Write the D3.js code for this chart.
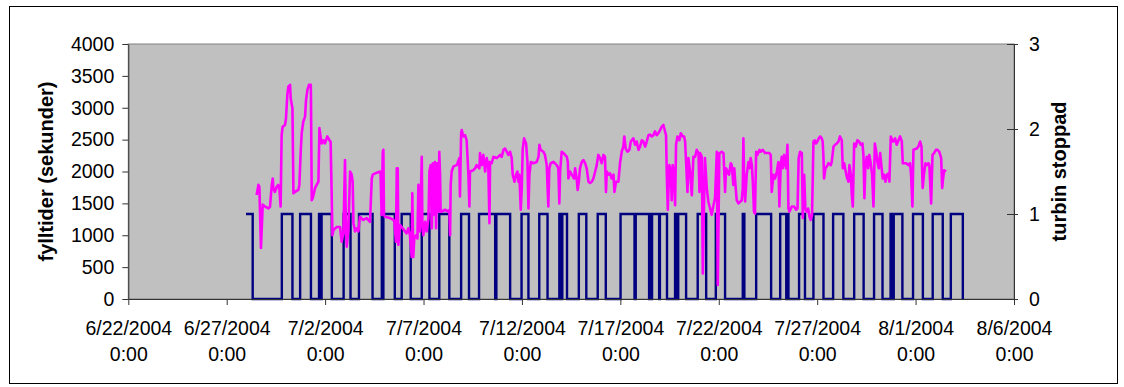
<!DOCTYPE html>
<html><head><meta charset="utf-8">
<script src="https://cdn.jsdelivr.net/npm/d3@7"></script>
<style>
body{margin:0;background:#fff}
svg{display:block}
text{font-family:"Liberation Sans",Arial,sans-serif;fill:#000}
</style>
</head><body>
<svg id="c" width="1124" height="387"></svg>
<script>
// ---------------- data ----------------
const startDate = [2004, 5, 22];            // 6/22/2004 0:00
const tickDays = [0, 5, 10, 15, 20, 25, 30, 35, 40, 45];
const leftTicks = [0, 500, 1000, 1500, 2000, 2500, 3000, 3500, 4000];
const rightTicks = [0, 1, 2, 3];
const leftTitle = "fylltider (sekunder)";
const rightTitle = "turbin stoppad";

// fill time (seconds): day offset from 6/22/2004 0:00 and value
const fillDay = [
6.52,6.61,6.66,6.74,6.83,6.95,7.12,7.20,7.29,7.34,7.37,7.45,7.54,7.62,7.68,7.74,7.79,7.84,7.96,8.01,8.08,8.13,8.22,8.25,8.34,8.39,8.47,8.64,8.69,8.76,8.81,8.89,8.98,9.03,9.10,9.18,9.27,9.28,9.32,9.37,9.49,9.57,9.66,9.71,9.78,9.83,9.91,9.99,10.11,10.22,10.28,10.33,10.37,10.42,10.59,10.76,10.84,10.93,11.01,11.06,11.10,11.18,11.27,11.35,11.40,11.44,11.52,11.60,11.69,
11.77,11.94,12.11,12.28,12.37,12.42,12.54,12.79,12.82,12.87,12.93,12.96,12.99,13.04,13.30,13.47,13.52,13.60,13.64,13.69,13.72,13.81,13.94,14.06,14.14,14.23,14.31,14.40,14.43,14.48,14.53,14.62,14.69,14.74,14.79,14.82,14.91,14.94,14.99,15.08,15.16,15.25,15.30,15.36,15.42,15.47,15.50,15.58,15.64,15.70,15.75,15.80,15.84,15.87,15.92,16.09,16.26,16.31,16.35,16.38,16.43,16.52,16.69,16.82,16.85,16.91,16.94,17.02,17.11,17.19,17.28,17.33,17.36,17.53,17.62,17.70,17.84,
17.87,17.96,18.04,18.13,18.21,18.29,18.35,18.38,18.46,18.55,18.72,18.89,18.97,19.06,19.14,19.23,19.31,19.40,19.48,19.53,19.62,19.70,19.77,19.82,19.87,19.94,19.99,20.04,20.11,20.21,20.28,20.33,20.38,20.45,20.58,20.75,20.84,20.89,20.95,21.09,21.17,21.26,21.34,21.39,21.46,21.60,21.77,21.85,21.90,21.94,22.02,22.11,22.28,22.33,22.36,22.44,22.53,22.65,22.70,22.78,22.83,22.89,22.95,23.04,23.12,23.21,23.29,23.38,23.46,23.55,23.63,23.72,23.80,23.88,
23.97,24.05,24.14,24.22,24.27,24.31,24.39,24.48,24.56,24.65,24.70,24.78,24.90,24.99,25.07,25.15,25.20,25.27,25.36,25.46,25.53,25.66,25.75,25.83,25.92,26.00,26.09,26.17,26.26,26.34,26.43,26.51,26.59,26.68,26.76,26.85,26.93,27.02,27.10,27.19,27.27,27.32,27.36,27.41,27.49,27.56,27.61,27.66,27.73,27.78,27.83,27.90,28.00,28.07,28.17,28.24,28.29,28.34,28.41,28.46,28.54,28.63,28.71,28.80,28.88,28.97,29.02,29.05,29.14,29.19,29.24,29.30,29.39,29.47,29.56,29.64,29.73,29.81,29.90,29.95,30.03,
30.07,30.15,30.24,30.32,30.37,30.44,30.52,30.61,30.66,30.74,30.79,30.86,30.91,31.00,31.17,31.22,31.25,31.29,31.34,31.42,31.51,31.56,31.62,31.68,31.73,31.79,31.84,31.90,31.96,32.07,32.13,32.23,32.35,32.57,32.64,32.69,32.78,32.86,32.95,33.03,33.08,33.15,33.20,33.25,33.32,33.37,33.42,33.49,33.54,33.59,33.71,33.83,33.93,34.00,34.06,34.13,34.22,34.27,34.34,34.40,34.47,34.54,34.61,34.67,34.74,34.81,34.88,34.94,35.01,35.08,35.15,35.23,35.28,35.32,35.35,35.42,35.49,35.57,35.69,35.74,35.83,35.91,36.00,36.08,
36.16,36.25,36.30,36.37,36.45,36.50,36.59,36.64,36.71,36.76,36.81,36.88,36.96,37.04,37.13,37.21,37.30,37.35,37.40,37.45,37.52,37.59,37.65,37.72,37.79,37.86,37.93,38.00,38.06,38.13,38.20,38.26,38.33,38.40,38.47,38.54,38.62,38.67,38.74,38.81,38.87,38.96,39.04,39.13,39.21,39.30,39.35,39.52,39.64,39.72,39.77,39.84,39.89,40.06,40.14,40.23,40.30,40.36,40.43,40.50,40.57,40.65,40.70,40.79,40.86,40.94,41.03,41.11,41.20,41.25,41.30,41.35,41.38,41.45,41.55
];
const fillSec = [
1630,1790,1760,800,1480,1450,1420,1450,1790,1890,1740,1680,1760,1790,1710,1450,2570,2700,2730,2830,3200,3330,3360,3150,2990,1660,1680,1710,1790,2310,2600,2780,2860,3120,3280,3360,3360,3200,1550,1580,1740,1790,1840,2680,2520,2440,2490,2440,2550,2490,2470,1680,1000,1080,1130,1130,900,1030,2180,1060,820,1080,2000,1950,1840,1190,1060,1110,1060,
1290,1240,1270,1210,1890,1950,1970,2000,1950,1320,2310,2340,1320,1290,1270,1240,1210,900,2050,2050,850,1160,1110,1060,1030,1110,1000,660,1660,660,950,1000,950,1790,1160,1060,2230,1210,1000,1210,1060,1270,2000,2100,1110,2130,1320,2150,1110,2130,1370,2310,1950,1370,1370,1400,1370,1400,1000,1790,2000,2080,2100,2210,1610,2600,2650,2550,2570,2490,1950,1450,2000,2020,2050,2100,2050,
2290,2100,2260,2000,2210,2100,1190,2150,2130,2230,2210,2260,2230,2340,2360,2310,2260,2310,2210,1950,1840,1950,2000,1840,1950,1400,1740,2360,2520,2440,2150,1420,1950,2150,2130,2150,2230,2420,2340,2310,2260,2100,1450,2050,2130,2150,2100,2050,1500,2000,2310,2290,2230,2150,1890,2000,1950,1890,2050,1890,1710,1840,2050,2150,2180,2130,2050,1840,1820,1840,1890,2000,2100,2260,
2210,2130,2260,2230,1680,2000,1950,1970,1890,1950,1680,1840,1840,2150,2310,2390,2550,2360,2310,2340,2470,2520,2420,2470,2340,2390,2490,2470,2390,2470,2570,2580,2550,2570,2630,2570,2600,2650,2700,2730,2630,2570,1950,1400,2100,2020,1550,2100,1950,1470,2420,2550,2490,2600,2550,2550,2470,2150,1680,2210,2000,1630,2230,2230,2340,2290,1680,2290,2230,400,1320,2210,1740,1530,1420,1320,1470,1580,2310,220,2290,
2290,2310,2290,1680,2050,2000,1950,2130,2100,1790,2050,1740,1550,1500,1550,1740,2520,1840,1530,1950,2150,2050,2210,2100,1840,1370,1340,2310,2260,2340,2310,2340,2290,2290,2260,1680,1950,1890,2000,2150,1450,2100,2230,2050,2260,2130,2050,2420,1420,1370,1450,1450,1400,1420,2210,2310,2290,1270,1950,1420,1370,1420,1290,1240,1320,2470,2490,2440,2470,2520,2550,2520,2470,2210,1890,2050,2080,2130,2100,2150,2390,2420,2440,2470,
2550,2490,2050,2130,2000,1920,1840,2100,1950,1630,1450,2440,2390,2490,2470,2420,2440,2260,1580,2100,2230,2050,2260,2130,1950,1450,2440,2310,2150,2050,2290,2100,1890,1950,1840,1950,1970,1840,2550,2490,2470,2520,2420,2490,2550,2470,2130,2130,2100,2130,1950,1450,2340,2360,2390,2470,2390,1740,1970,2130,2100,2130,2100,1500,2260,2290,2340,2340,2310,2260,2210,1740,1840,2020,2000
];

// turbine stopped (1) intervals: day offsets of start and end
const stopStart = [5.98,7.80,8.73,9.69,9.82,10.94,11.72,12.88,12.96,13.89,14.91,15.80,16.91,17.82,18.70,19.98,20.88,21.90,22.05,22.89,23.85,25.01,25.78,26.50,26.61,27.01,27.78,27.86,27.94,28.93,29.85,31.22,31.90,33.12,33.48,34.08,34.81,35.81,36.88,37.89,38.73,38.81,38.89,39.87,40.87,41.79];
const stopEnd   = [6.32,8.34,9.28,9.77,10.34,11.29,12.41,12.91,13.54,14.35,15.30,16.31,17.31,18.64,19.40,20.33,21.30,21.95,22.29,23.27,24.26,25.72,26.46,26.57,26.97,27.37,27.82,27.90,28.34,29.36,30.32,31.30,32.66,33.43,33.54,34.38,35.32,36.33,37.36,38.32,38.77,38.85,39.33,40.37,41.38,42.40];

// ---------------- chart ----------------
const base = new Date(startDate[0], startDate[1], startDate[2]);
const toDate = d => new Date(base.getTime() + d * 864e5);

const P = {l: 128.3, r: 1014, t: 44, b: 299};
const FS = "19.5px";
const svg = d3.select("#c");

svg.append("rect").attr("x", 9.5).attr("y", 6.5).attr("width", 1108).attr("height", 377)
  .attr("fill", "#fff").attr("stroke", "#000").attr("stroke-width", 1);

const x = d3.scaleTime().domain([toDate(tickDays[0]), toDate(tickDays[tickDays.length - 1])]).range([P.l, P.r]);
const yL = d3.scaleLinear().domain([0, 4000]).range([P.b, P.t]);
const yR = d3.scaleLinear().domain([0, 3]).range([P.b, P.t]);

// plot area
svg.append("rect").attr("x", P.l).attr("y", P.t).attr("width", P.r - P.l).attr("height", P.b - P.t)
  .attr("fill", "#c0c0c0").attr("stroke", "#808080").attr("stroke-width", 1);

const stopPts = [];
stopStart.forEach((a, i) => {
  if (i > 0) stopPts.push([a, 0]);
  stopPts.push([a, 1]);
  stopPts.push([stopEnd[i], 1]);
  stopPts.push([stopEnd[i], 0]);
});
const lineR = d3.line().x(p => x(toDate(p[0]))).y(p => yR(p[1]));
svg.append("path").attr("d", lineR(stopPts)).attr("fill", "none")
  .attr("stroke", "#000080").attr("stroke-width", 2.4).attr("stroke-linejoin", "miter");

const fillPts = fillDay.map((d, i) => [d, fillSec[i]]);
const lineL = d3.line().x(p => x(toDate(p[0]))).y(p => yL(p[1]));
svg.append("path").attr("d", lineL(fillPts)).attr("fill", "none")
  .attr("stroke", "#ff00ff").attr("stroke-width", 2.6).attr("stroke-linejoin", "round");

// axes
const axisColor = "#333";
const gx = svg.append("g").attr("transform", `translate(0,${P.b})`)
  .call(d3.axisBottom(x).tickValues(tickDays.map(toDate)).tickSize(6).tickSizeOuter(0));
const f1 = d3.timeFormat("%-m/%-d/%Y"), f2 = d3.timeFormat("%-H:%M");
gx.selectAll(".tick text").each(function(d) {
  const t = d3.select(this);
  t.text(null).attr("y", 36).attr("dy", null).style("font-size", FS);
  t.append("tspan").attr("x", 0).text(f1(d));
  t.append("tspan").attr("x", 0).attr("dy", 26).text(f2(d));
});

const gl = svg.append("g").attr("transform", `translate(${P.l},0)`)
  .call(d3.axisLeft(yL).tickValues(leftTicks).tickFormat(d3.format("d"))
    .tickSize(6).tickPadding(8).tickSizeOuter(0));
gl.selectAll(".tick text").style("font-size", FS);

const gr = svg.append("g").attr("transform", `translate(${P.r},0)`)
  .call(d3.axisRight(yR).tickValues(rightTicks).tickFormat(d3.format("d"))
    .tickSize(4).tickPadding(11).tickSizeOuter(0));
gr.selectAll(".tick line").attr("x1", -7);
gr.selectAll(".tick text").style("font-size", FS);

[gx, gl, gr].forEach(g => {
  g.select(".domain").attr("stroke", axisColor);
  g.selectAll(".tick line").attr("stroke", axisColor);
  g.attr("font-family", null).attr("font-size", null);
});

// titles
svg.append("text").attr("transform", `translate(52.5,${(P.t + P.b) / 2}) rotate(-90)`)
  .attr("text-anchor", "middle").style("font-size", "20px").style("font-weight", "bold").text(leftTitle);
svg.append("text").attr("transform", `translate(1066,${(P.t + P.b) / 2}) rotate(-90)`)
  .attr("text-anchor", "middle").style("font-size", "20px").style("font-weight", "bold").text(rightTitle);
</script>
</body></html>
